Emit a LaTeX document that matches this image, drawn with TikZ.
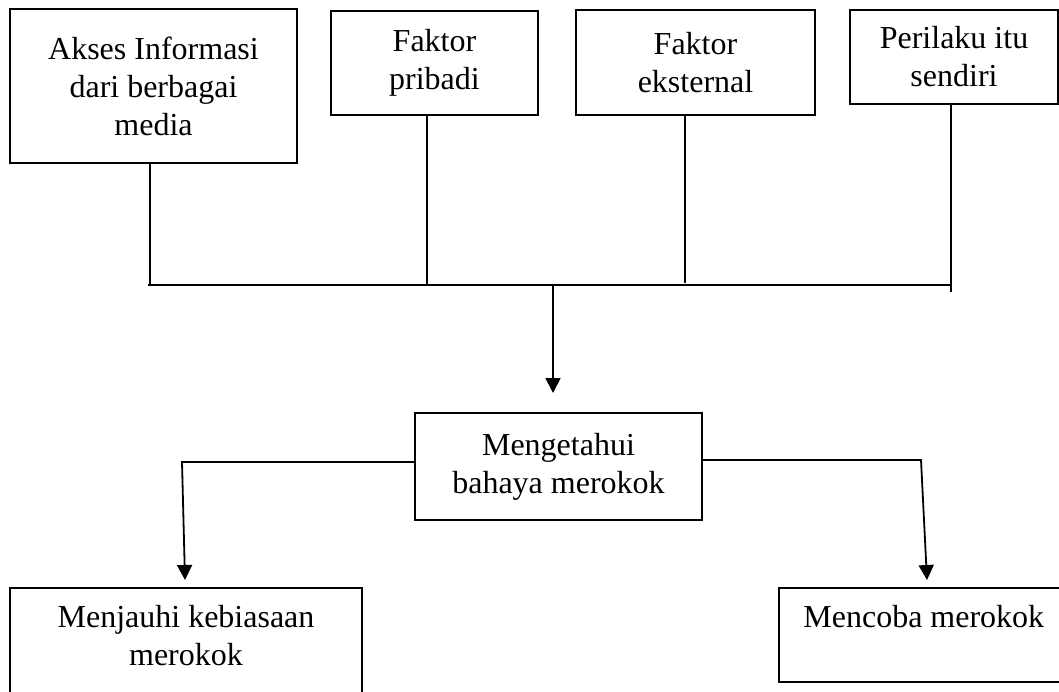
\documentclass[tikz,border=0pt]{standalone}
\usepackage{fontspec}
\setmainfont{Liberation Serif}
\usetikzlibrary{arrows.meta}

\tikzset{
  box/.style={draw, line width=0.6pt, align=center, inner sep=0pt},
  txt/.style={align=center, inner sep=0pt},
  link/.style={line width=0.7pt},
  arr/.style={line width=0.9pt, -{Triangle[length=7.5pt,width=7.5pt]}}
}

\begin{document}
\begin{tikzpicture}[x=0.5pt, y=-0.5pt, font=\fontsize{16}{19}\selectfont]
\useasboundingbox (0,0) rectangle (1059,691);

% Faktor-faktor
\node[box, minimum width=143.5pt, minimum height=77pt] (akses) at (153.5,86) {Akses Informasi\\dari berbagai\\media};
\node[box, minimum width=103.5pt, minimum height=52pt] (pribadi) at (434.5,63) {Faktor\\pribadi};
\node[box, minimum width=119.5pt, minimum height=52.5pt] (eksternal) at (695.5,62.5) {Faktor\\eksternal};
\node[box, minimum width=104pt, minimum height=47pt] (perilaku) at (954,57) {Perilaku itu\\sendiri};

% Garis penghubung
\coordinate (j1) at (150,285);
\coordinate (j2) at (427,285);
\coordinate (j3) at (685,283);
\coordinate (j4) at (951,292);
\coordinate (barL) at (148,285);
\coordinate (barR) at (952,285);
\coordinate (barM) at (553,285);
\coordinate (tipM) at (553,393);
\draw[link] (j1 |- akses.south) -- (j1);
\draw[link] (j2 |- pribadi.south) -- (j2);
\draw[link] (j3 |- eksternal.south) -- (j3);
\draw[link] (j4 |- perilaku.south) -- (j4);
\draw[link] (barL) -- (barR);
\draw[arr] (barM) -- (tipM);

% Pengetahuan
\node[box, minimum width=143.5pt, minimum height=53.5pt] (mengetahui) at (558.5,466.5) {Mengetahui\\bahaya merokok};

% Cabang
\coordinate (cl) at (182,462);
\coordinate (tl) at (185,580);
\coordinate (cr) at (921,460);
\coordinate (tr) at (927,580);
\draw[arr] (mengetahui.west |- cl) -- (cl) -- (tl);
\draw[arr] (mengetahui.east |- cr) -- (cr) -- (tr);

% Hasil
\node[box, minimum width=176pt, minimum height=56pt] (menjauhi) at (186,644) {};
\node[txt, anchor=north] (menjauhiT) at (186,605) {Menjauhi kebiasaan\\merokok};
\node[box, minimum width=145.5pt, minimum height=47pt] (mencoba) at (924.5,635) {};
\node[txt, anchor=north west] (mencobaT) at (803,605) {Mencoba merokok};
\end{tikzpicture}
\end{document}
